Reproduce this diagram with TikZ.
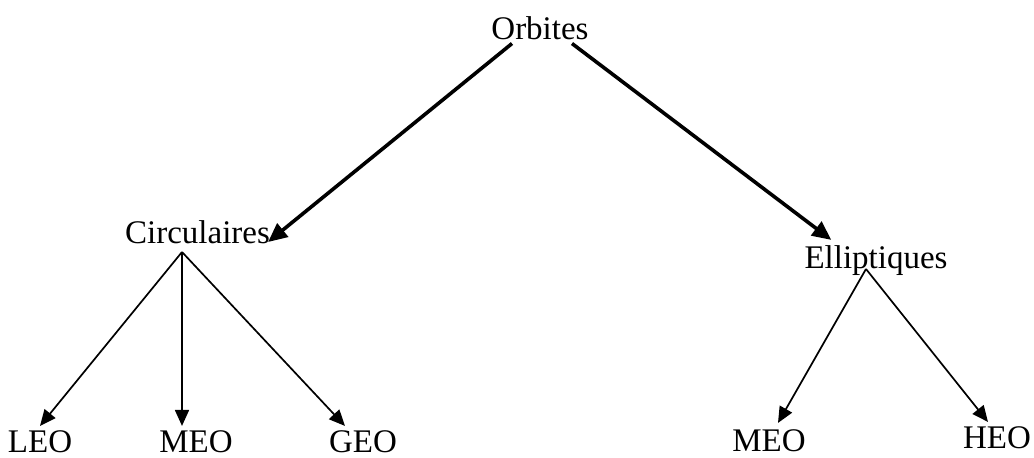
\documentclass[tikz,border=0pt]{standalone}
\usepackage{fontspec}
\setmainfont{Liberation Serif}
\usetikzlibrary{arrows.meta}
\begin{document}
\begin{tikzpicture}[x=1pt,y=-1pt,
  lbl/.style={inner sep=0pt,anchor=base,font=\fontsize{33}{36}\selectfont},
  bigarrow/.style={line width=3.6pt,-{Triangle[length=19pt,width=17pt]}},
  smallarrow/.style={line width=1.7pt,-{Triangle[length=16pt,width=14pt]}}]
\useasboundingbox (0,0) rectangle (1034,458);
\node[lbl] (orb) at (540,39) {Orbites};
\node[lbl] (circ) at (197.5,243) {Circulaires};
\node[lbl] (ell) at (876,268) {Elliptiques};
\node[lbl] (leo) at (40,452) {LEO};
\node[lbl] (meoa) at (196,452) {MEO};
\node[lbl] (geo) at (363,452) {GEO};
\node[lbl] (meob) at (769,451) {MEO};
\node[lbl] (heo) at (997,448) {HEO};
\coordinate (cfan) at ([xshift=-15.5pt,yshift=-9pt]circ.base);
\coordinate (efan) at ([xshift=-10pt,yshift=-1pt]ell.base);
\draw[bigarrow] ([xshift=-28pt,yshift=-4pt]orb.south) -- ([xshift=-2pt,yshift=1pt]circ.base east);
\draw[bigarrow] ([xshift=32pt,yshift=-4pt]orb.south) -- ([xshift=27pt,yshift=5pt]ell.north west);
\draw[smallarrow] (cfan) -- ([yshift=4pt]leo.north);
\draw[smallarrow] (cfan) -- ([xshift=-14pt,yshift=4pt]meoa.north);
\draw[smallarrow] (cfan) -- ([xshift=-18pt,yshift=4pt]geo.north);
\draw[smallarrow] (efan) -- ([xshift=9pt,yshift=6pt]meob.north);
\draw[smallarrow] (efan) -- ([xshift=-9pt,yshift=4pt]heo.north);
\end{tikzpicture}
\end{document}
